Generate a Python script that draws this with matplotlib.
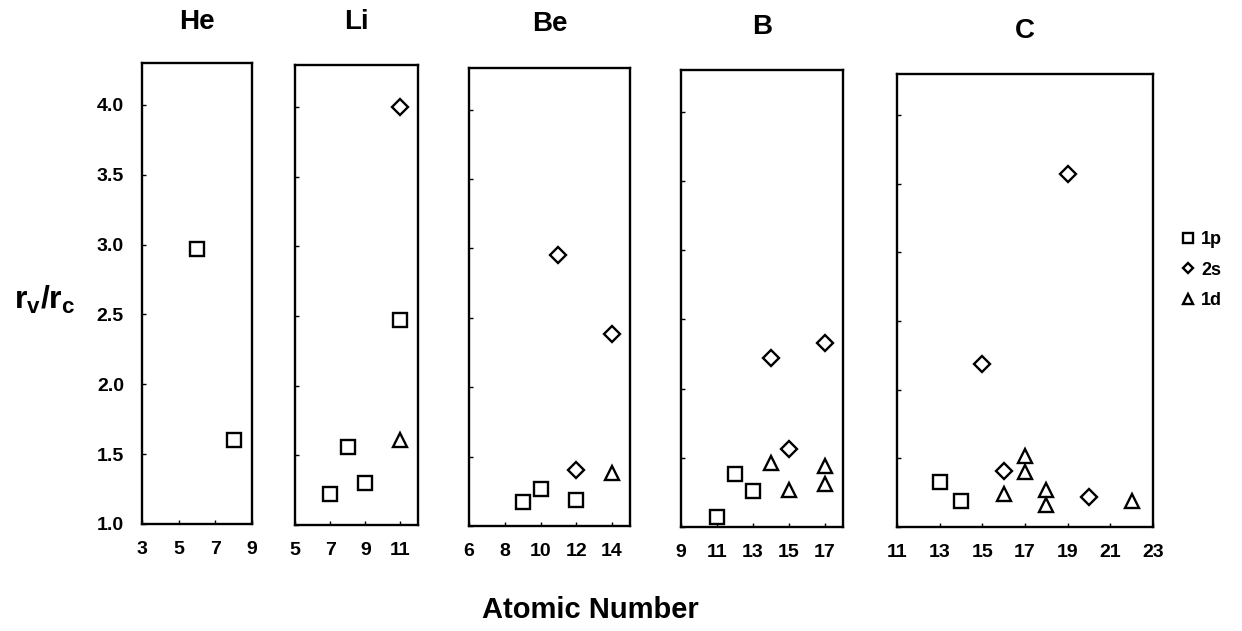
import matplotlib
matplotlib.use("Agg")
import matplotlib.pyplot as plt

plt.rcParams['font.family'] = ['Liberation Sans', 'DejaVu Sans']
plt.rcParams['font.weight'] = 'bold'
plt.rcParams['mathtext.fontset'] = 'custom'
plt.rcParams['mathtext.rm'] = 'Liberation Sans:bold'
plt.rcParams['mathtext.it'] = 'Liberation Sans:bold'
plt.rcParams['mathtext.bf'] = 'Liberation Sans:bold'

# data (atomic number, r_v/r_c)
elements = ['He', 'Li', 'Be', 'B', 'C']

he_z_1p = [6, 8]
he_1p = [2.97, 1.60]

li_z_1p = [7, 8, 9, 11]
li_1p = [1.22, 1.56, 1.30, 2.47]
li_z_2s = [11]
li_2s = [4.00]
li_z_1d = [11]
li_1d = [1.61]

be_z_1p = [9, 10, 12]
be_1p = [1.17, 1.27, 1.19]
be_z_2s = [11, 12, 14]
be_2s = [2.95, 1.40, 2.38]
be_z_1d = [14]
be_1d = [1.38]

b_z_1p = [11, 12, 13]
b_1p = [1.07, 1.38, 1.26]
b_z_2s = [14, 15, 17]
b_2s = [2.22, 1.56, 2.33]
b_z_1d = [14, 15, 17, 17]
b_1d = [1.46, 1.27, 1.44, 1.31]

c_z_1p = [13, 14]
c_1p = [1.33, 1.19]
c_z_2s = [15, 16, 19, 20]
c_2s = [2.19, 1.41, 3.57, 1.22]
c_z_1d = [16, 17, 17, 18, 18, 22]
c_1d = [1.24, 1.52, 1.40, 1.27, 1.16, 1.19]

x_limits = [(3, 9), (5, 12), (6, 15), (9, 18), (11, 23)]
x_ticks = [[3, 5, 7, 9], [5, 7, 9, 11], [6, 8, 10, 12, 14],
           [9, 11, 13, 15, 17], [11, 13, 15, 17, 19, 21, 23]]
y_ticks = [1.0, 1.5, 2.0, 2.5, 3.0, 3.5, 4.0]

series = [
    [(he_z_1p, he_1p), None, None],
    [(li_z_1p, li_1p), (li_z_2s, li_2s), (li_z_1d, li_1d)],
    [(be_z_1p, be_1p), (be_z_2s, be_2s), (be_z_1d, be_1d)],
    [(b_z_1p, b_1p), (b_z_2s, b_2s), (b_z_1d, b_1d)],
    [(c_z_1p, c_1p), (c_z_2s, c_2s), (c_z_1d, c_1d)],
]
shell_names = ['1p', '2s', '1d']
markers = ['s', 'D', '^']
msizes = [10.5, 8, 10.5]

W, H = 1242, 631
# panel boxes in pixels: left, right, top, bottom
boxes = [(142, 252, 63, 524), (295, 418, 65, 525), (469, 630, 68, 526),
         (681, 843, 70, 527), (897, 1153, 74, 527)]
title_y = [22, 22, 24, 27, 31]

fig = plt.figure(figsize=(W / 100, H / 100), dpi=100)

handles = []
for i, el in enumerate(elements):
    l, r, t, b = boxes[i]
    ax = fig.add_axes([l / W, (H - b) / H, (r - l) / W, (b - t) / H])
    for k, s in enumerate(series[i]):
        if s is None:
            continue
        h, = ax.plot(s[0], s[1], linestyle='none', marker=markers[k], markersize=msizes[k],
                     markerfacecolor='white', markeredgecolor='black', markeredgewidth=1.7,
                     label=shell_names[k])
        if i == 4:
            handles.append(h)
    ax.set_xlim(*x_limits[i])
    ax.set_ylim(1.0, 4.3)
    ax.set_xticks(x_ticks[i])
    ax.set_yticks(y_ticks)
    ax.tick_params(direction='in', length=3, width=1, labelsize=14, pad=12)
    if i == 0:
        ax.set_yticklabels([f'{v:.1f}' for v in y_ticks])
        ax.tick_params(axis='y', pad=13)
    else:
        ax.set_yticklabels([])
    for sp in ax.spines.values():
        sp.set_linewidth(1.7)
    fig.text((l + r) / 2 / W, 1 - title_y[i] / H, el, fontsize=20, fontweight='bold',
             ha='center', va='center')

fig.text(590 / W, 1 - 610 / H, 'Atomic Number', fontsize=21, fontweight='bold',
         ha='center', va='center')
fig.text(45 / W, 1 - 300 / H, r'$\mathrm{r_v/r_c}$', fontsize=23,
         ha='center', va='center')

fig.legend(handles=handles, loc='center left', bbox_to_anchor=(1172 / W, 1 - 270 / H),
           frameon=False, fontsize=13, handlelength=0.8, handletextpad=0.3,
           labelspacing=0.75, borderpad=0, markerscale=0.7)

fig.savefig('out.png', dpi=100)
